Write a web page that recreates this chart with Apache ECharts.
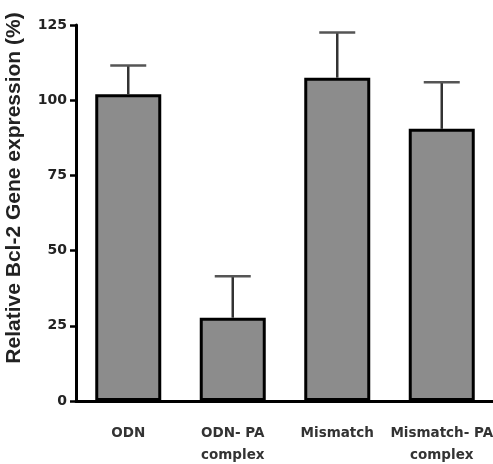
<!DOCTYPE html>
<html>
<head>
<meta charset="utf-8">
<script src="https://cdn.jsdelivr.net/npm/echarts@6/dist/echarts.min.js"></script>
<style>html,body{margin:0;padding:0;background:#fff;}#c{width:493px;height:464px;}</style>
</head>
<body>
<div id="c"></div>
<script>
var categories = ['ODN', 'ODN- PA\ncomplex', 'Mismatch', 'Mismatch- PA\ncomplex'];
var values = [102, 27.7, 107.5, 90.5];
var errorUpper = [111.5, 41.5, 122.5, 106];
var yTicks = [0, 25, 50, 75, 100, 125];
var yName = 'Relative Bcl-2 Gene expression (%)';

var chart = echarts.init(document.getElementById('c'));
var errData = values.map(function (v, i) { return [i, v, errorUpper[i]]; });
chart.setOption({
  animation: false,
  backgroundColor: '#fff',
  grid: { left: 76, right: -1, top: 25, bottom: 63, containLabel: false, outerBoundsMode: 'none' },
  xAxis: {
    type: 'category',
    data: categories,
    axisLine: { lineStyle: { color: '#000', width: 3 } },
    axisTick: { alignWithLabel: true, length: 6, lineStyle: { color: '#000', width: 2.5 } },
    axisLabel: { color: '#333', fontFamily: 'DejaVu Sans', fontWeight: 'bold', fontSize: 13.5, margin: 21, lineHeight: 22, interval: 0 }
  },
  yAxis: {
    type: 'value',
    min: yTicks[0], max: yTicks[yTicks.length - 1], interval: 25,
    name: yName,
    nameLocation: 'middle',
    nameGap: 51,
    nameTextStyle: { color: '#222', fontFamily: 'Liberation Sans', fontWeight: 'bold', fontSize: 21, padding: [0, 0, 0, 50] },
    axisLine: { show: true, lineStyle: { color: '#000', width: 3 } },
    axisTick: { show: true, length: 6, lineStyle: { color: '#000', width: 2.5 } },
    axisLabel: { color: '#222', fontFamily: 'DejaVu Sans', fontWeight: 'bold', fontSize: 14, margin: 9 },
    splitLine: { show: false }
  },
  series: [
    {
      type: 'bar',
      data: values,
      barWidth: 66,
      itemStyle: { color: '#8c8c8c', borderColor: '#000', borderWidth: 3 },
      z: 3
    },
    {
      type: 'custom',
      data: errData,
      z: 2,
      renderItem: function (params, api) {
        var x = api.value(0);
        var top = api.coord([x, api.value(2)]);
        var base = api.coord([x, api.value(1)]);
        var hw = 18;
        return {
          type: 'group',
          children: [
            { type: 'line', shape: { x1: top[0], y1: top[1], x2: base[0], y2: base[1] }, style: { stroke: '#333', lineWidth: 2.5 } },
            { type: 'line', shape: { x1: top[0] - hw, y1: top[1], x2: top[0] + hw, y2: top[1] }, style: { stroke: '#555', lineWidth: 2.5 } }
          ]
        };
      }
    }
  ]
});
</script>
</body>
</html>
